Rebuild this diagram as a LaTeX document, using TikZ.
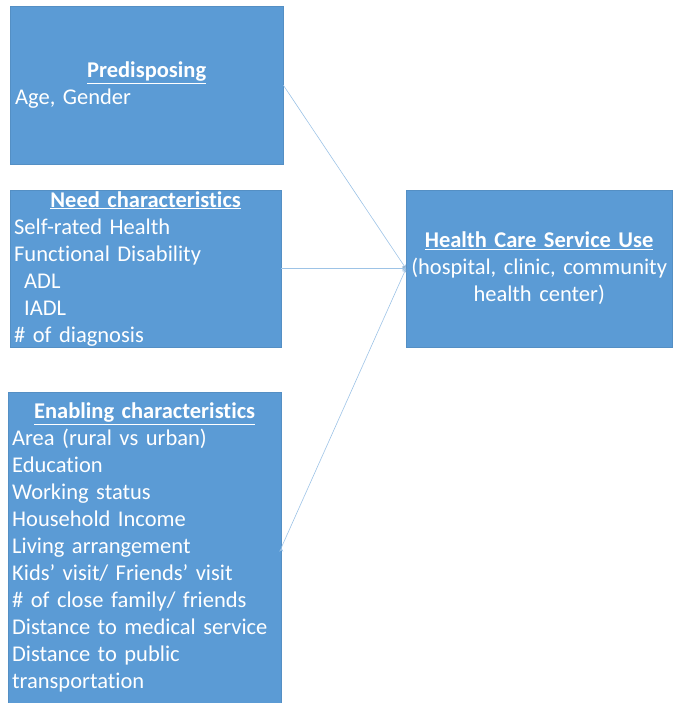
\documentclass[tikz,border=0pt]{standalone}
\usepackage{fontspec}
\setmainfont[Ligatures={NoCommon},WordSpace=0.8]{Carlito}
\usetikzlibrary{arrows.meta}
\definecolor{boxblue}{HTML}{5B9BD5}
\definecolor{lineblue}{HTML}{9DC3E6}
\newcommand{\boxtitle}[1]{{\centering\underline{\textbf{#1}}\par}}

\begin{document}
\begin{tikzpicture}[x=1pt,y=-1pt,
		box node/.style = {rectangle, fill=boxblue, draw=boxblue!92!black, line width=0.3pt, anchor=north west,
			text=white, font=\fontsize{22.5}{27}\selectfont, align=left, inner xsep=4pt, inner ysep=0pt},
		link/.style = {draw=lineblue, line width=0.6pt, -{Stealth[length=4pt,width=4pt]}}]
		
		\useasboundingbox (0,0) rectangle (672,703);
		
		\node[box node, text width=263pt, inner xsep=5pt, minimum height=158pt] at (10,6) (1)
		{\boxtitle{Predisposing}Age, Gender};
		\node[box node, text width=263pt, minimum height=157pt] at (10,190) (2)
		{\boxtitle{Need characteristics}Self-rated Health\\Functional Disability\\\hspace*{10pt}ADL\\\hspace*{10pt}IADL\\\# of diagnosis};
		\node[box node, text width=265pt, minimum height=311pt] at (8,392) (3)
		{\boxtitle{Enabling characteristics}Area (rural vs urban)\\Education\\Working status\\Household Income\\Living arrangement\\Kids’ visit/ Friends’ visit\\\# of close family/ friends\\Distance to medical service\\Distance to public\\transportation};
		\node[box node, align=center, text width=258pt, minimum height=157pt] at (406,190) (4)
		{\underline{\textbf{Health Care Service Use}}\\(hospital, clinic, community\\health center)};
		
		\path[link]
		(1.east) edge (4.west)
		(2.east) edge (4.west)
		(3.east) edge (4.west);
\end{tikzpicture}
\end{document}
